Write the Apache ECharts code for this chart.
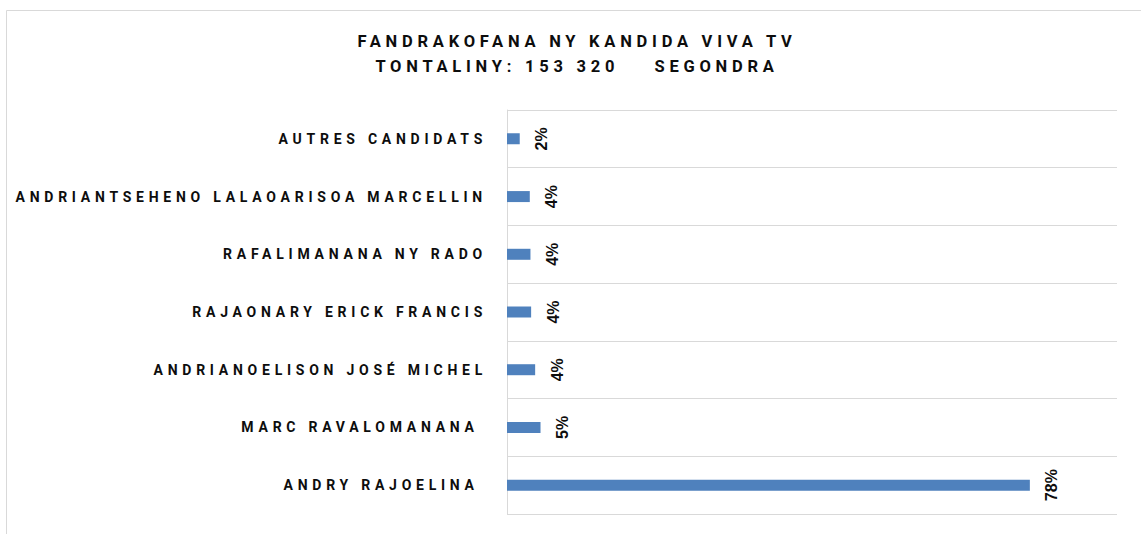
<!DOCTYPE html>
<html>
<head>
<meta charset="utf-8">
<script src="https://cdn.jsdelivr.net/npm/echarts@6/dist/echarts.min.js"></script>
<style>
  html, body { margin: 0; padding: 0; background: #fff; }
  #chart { width: 1141px; height: 534px; }
  /* wide letter spacing like the original Office chart */
  #chart text { letter-spacing: 4.75px; white-space: pre; }
  #chart text[style*="Liberation"] { letter-spacing: 0; }
</style>
</head>
<body>
<div id="chart"></div>
<script>
// candidates, top to bottom
const categories = [
  'AUTRES CANDIDATS',
  'ANDRIANTSEHENO LALAOARISOA MARCELLIN',
  'RAFALIMANANA NY RADO',
  'RAJAONARY ERICK FRANCIS',
  'ANDRIANOELISON JOSÉ MICHEL',
  'MARC RAVALOMANANA ',
  'ANDRY RAJOELINA '
]
// share of air time (%)
const values = [1.9, 3.4, 3.5, 3.6, 4.2, 5.0, 78]
// labels printed next to the bars
const valueLabels = ['2%', '4%', '4%', '4%', '4%', '5%', '78%']

const titleLines = ['FANDRAKOFANA NY KANDIDA VIVA TV', 'TONTALINY: 153 320    SEGONDRA']

const chart = echarts.init(document.getElementById('chart'), null, { renderer: 'svg' })

const option = {
  animation: false,
  backgroundColor: '#fff',
  title: {
    text: titleLines.join('\n'),
    left: 572,
    textAlign: 'center',
    top: 24,
    textStyle: {
      fontFamily: 'Roboto',
      fontSize: 16.5,
      fontWeight: 'bold',
      color: '#0d0d0d',
      lineHeight: 25
    }
  },
  graphic: [
    {
      type: 'rect',
      shape: { x: 6.5, y: 10.5, width: 1200, height: 600 },
      style: { fill: 'none', stroke: '#d9d9d9', lineWidth: 1 },
      silent: true
    }
  ],
  grid: {
    left: 507,
    right: 24,
    top: 110,
    bottom: 20
  },
  xAxis: {
    type: 'value',
    min: 0,
    max: 91,
    show: false
  },
  yAxis: {
    type: 'category',
    inverse: true,
    data: categories,
    axisTick: { show: false },
    axisLine: { show: true, lineStyle: { color: '#d9d9d9', width: 1 } },
    splitLine: { show: true, lineStyle: { color: '#d9d9d9', width: 1 } },
    axisLabel: {
      margin: 20,
      fontFamily: 'Roboto',
      fontSize: 14,
      fontWeight: 'bold',
      color: '#0d0d0d'
    }
  },
  series: [
    {
      type: 'bar',
      data: values,
      barWidth: 11,
      itemStyle: { color: '#4f81bd' },
      label: {
        show: true,
        position: 'right',
        distance: 14,
        rotate: 90,
        align: 'center',
        verticalAlign: 'top',
        fontFamily: 'Liberation Sans',
        fontSize: 16,
        fontWeight: 'bold',
        color: '#0d0d0d',
        formatter: p => valueLabels[p.dataIndex]
      }
    }
  ]
}

chart.setOption(option)
</script>
</body>
</html>
